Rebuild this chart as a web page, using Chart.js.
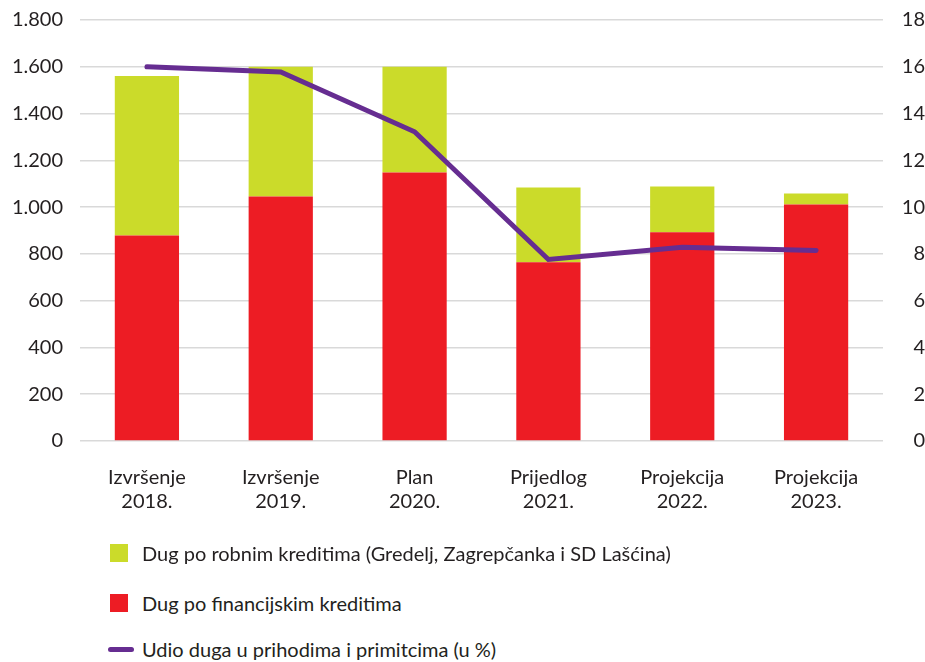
<!DOCTYPE html>
<html>
<head>
<meta charset="utf-8">
<script src="https://cdn.jsdelivr.net/npm/chart.js@4"></script>
<style>
  body { margin: 0; background: #fff; font-family: Lato, sans-serif; color: #231f20; overflow: hidden; }
  #wrap { position: absolute; left: 0; top: -10px; width: 925px; height: 555px; }
  #legend { position: absolute; left: 0; top: 520px; width: 925px; }
  .item { position: absolute; left: 108px; height: 24px; display: flex; align-items: center; font-size: 20px; }
  .sw { width: 18px; height: 18px; margin-left: 2px; margin-right: 14px; }
  .ln { width: 26px; height: 5px; border-radius: 3px; margin-right: 8px; }
</style>
</head>
<body>
<div id="wrap"><canvas id="myChart"></canvas></div>
<div id="legend"></div>
<script>
const categories = [['Izvršenje', '2018.'], ['Izvršenje', '2019.'], ['Plan', '2020.'], ['Prijedlog', '2021.'], ['Projekcija', '2022.'], ['Projekcija', '2023.']];
const financijski = [879, 1045, 1148, 764, 892, 1011];
const robni = [682, 555, 452, 320, 196, 47];
const udio = [16.0, 15.78, 13.22, 7.76, 8.28, 8.15];

const seriesNames = {
    robni: 'Dug po robnim kreditima (Gredelj, Zagrepčanka i SD Lašćina)',
    financijski: 'Dug po financijskim kreditima',
    udio: 'Udio duga u prihodima i primitcima (u %)'
};

const green = '#cbdb2a';
const red = '#ed1c24';
const purple = '#662d91';
const gridColor = '#d9d9d9';
const textColor = '#231f20';

Chart.defaults.font.family = 'Lato, sans-serif';
Chart.defaults.font.size = 20;
Chart.defaults.color = textColor;

const ctx = document.getElementById('myChart').getContext('2d');
const chart = new Chart(ctx, {
    type: 'bar',
    data: {
        labels: categories,
        datasets: [
            {
                type: 'line',
                label: seriesNames.udio,
                data: udio,
                yAxisID: 'y1',
                borderColor: purple,
                borderWidth: 5,
                borderCapStyle: 'round',
                pointRadius: 0,
                tension: 0,
                order: 0
            },
            {
                label: seriesNames.financijski,
                data: financijski,
                backgroundColor: red,
                stack: 's',
                order: 1
            },
            {
                label: seriesNames.robni,
                data: robni,
                backgroundColor: green,
                stack: 's',
                order: 1
            }
        ]
    },
    options: {
        responsive: true,
        maintainAspectRatio: false,
        animation: false,
        layout: { padding: { top: 7, bottom: 6, left: 0, right: 0 } },
        datasets: { bar: { categoryPercentage: 1, barPercentage: 0.48 } },
        plugins: { legend: { display: false }, tooltip: { enabled: false } },
        scales: {
            x: {
                stacked: true,
                grid: { display: false, drawTicks: false },
                border: { display: false },
                ticks: { padding: 25, maxRotation: 0 }
            },
            y: {
                stacked: true,
                position: 'left',
                min: 0,
                max: 1800,
                afterFit: (scale) => { scale.width = 80; },
                grid: { color: gridColor, lineWidth: 1.5, drawTicks: false },
                border: { display: false },
                ticks: {
                    stepSize: 200,
                    padding: 17,
                    callback: (v) => String(v).replace(/\B(?=(\d{3})+(?!\d))/g, '.')
                }
            },
            y1: {
                position: 'right',
                min: 0,
                max: 18,
                afterFit: (scale) => { scale.width = 42; },
                grid: { display: false, drawTicks: false },
                border: { display: false },
                ticks: { stepSize: 2, padding: 18, crossAlign: 'far' }
            }
        }
    }
});

// legend below the chart, one entry per row
const legendRows = [
    { text: seriesNames.robni, color: green, kind: 'box', top: 21 },
    { text: seriesNames.financijski, color: red, kind: 'box', top: 71 },
    { text: seriesNames.udio, color: purple, kind: 'line', top: 117 }
];
const legend = document.getElementById('legend');
legendRows.forEach((r) => {
    const item = document.createElement('div');
    item.className = 'item';
    item.style.top = r.top + 'px';
    const mark = document.createElement('span');
    mark.className = r.kind === 'box' ? 'sw' : 'ln';
    mark.style.background = r.color;
    const label = document.createElement('span');
    label.textContent = r.text;
    item.appendChild(mark);
    item.appendChild(label);
    legend.appendChild(item);
});
</script>
</body>
</html>
